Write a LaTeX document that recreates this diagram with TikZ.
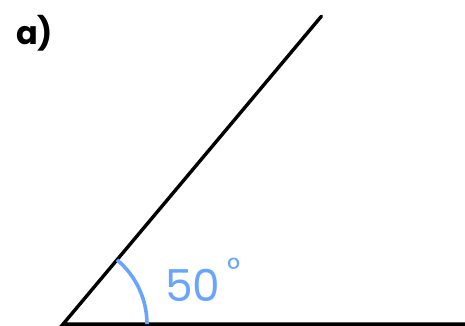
\documentclass[tikz,border=0pt]{standalone}
\usepackage{fontspec}
\setmainfont{Poppins}
\usetikzlibrary{angles,calc}
\definecolor{arcblue}{RGB}{105,165,255}
\begin{document}
\begin{tikzpicture}[x=1pt,y=1pt]
\useasboundingbox (0,0) rectangle (465,326);
\coordinate (O) at (63,1.8); \coordinate (E) at (475,1.8); \coordinate (T) at ($(O)+(50:402)$);
\draw[line width=3.4pt,line cap=round] (E)--(O)--(T);
\pic[draw=arcblue,line width=3.6pt,angle radius=84pt] {angle=E--O--T};
\node[font=\bfseries\fontsize{32}{32}\selectfont,anchor=base west,inner sep=0pt] (lbl) at (16,281) {a)};
\node[arcblue,font=\fontsize{44}{44}\selectfont,anchor=base west,inner sep=0pt] (val) at (165,24) {50\hspace{7pt}\raisebox{21pt}{\fontsize{32}{32}\selectfont °}};
\end{tikzpicture}
\end{document}
